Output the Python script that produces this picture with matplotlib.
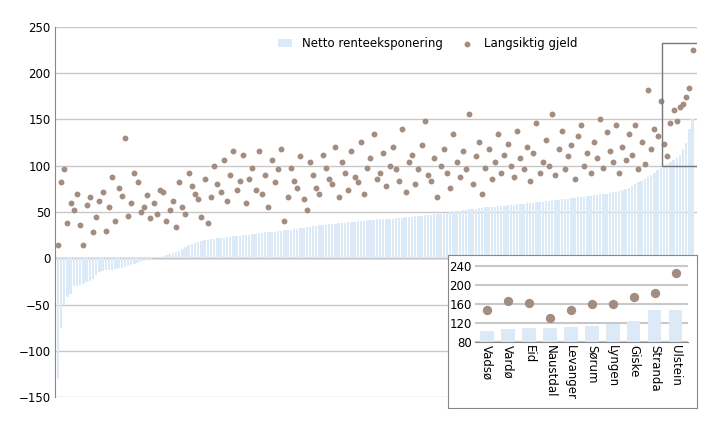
import matplotlib
matplotlib.use("Agg")
import matplotlib.pyplot as plt
from matplotlib.patches import Rectangle
import numpy as np

bars = [-130,-75,-50,-42,-38,
-30,-30,-29,-28,-25,-24,-22,-18,-15,-14,
-13,-12,-12,-11,-10,-10,-9,-8,-7,-6,-5,-4,-3,-2,-1,
0,1,2,3,4,5,6,7,8,10,12,14,16,17,18,19,
20,20,21,21,22,22,22,23,23,24,24,24,25,25,25,
26,26,27,27,28,28,29,29,30,30,31,31,31,32,32,33,
33,34,34,35,35,36,36,36,37,37,37,38,38,38,39,
39,39,40,40,40,41,41,41,42,42,42,43,43,43,44,44,
44,45,45,45,46,46,46,47,47,47,48,48,48,49,49,
50,50,51,51,52,52,53,53,53,54,54,55,55,56,56,57,
57,57,58,58,58,59,59,59,60,60,60,61,61,61,62,
62,63,63,63,64,64,64,65,65,66,66,66,67,67,68,68,
69,70,70,71,72,72,73,74,75,76,78,80,82,84,86,
88,90,92,95,98,100,102,104,106,108,112,118,125,140,150]

dots = [15,83,96,38,60,52,70,36,14,58,66,28,45,62,72,30,55,88,40,76,
67,130,46,60,92,82,50,55,68,44,60,48,74,72,40,52,62,34,82,56,
48,92,78,70,64,45,86,38,66,100,80,72,106,62,90,116,74,84,112,60,
86,98,74,116,70,90,56,106,82,96,118,40,66,98,84,76,110,64,52,104,
90,76,70,112,98,86,80,120,66,104,92,74,116,88,82,126,70,98,108,134,
86,92,114,78,100,120,96,84,140,72,104,112,80,96,122,148,90,84,108,66,
100,118,92,76,134,104,88,116,96,156,80,110,126,70,98,118,86,104,134,92,
112,124,100,88,138,108,96,120,84,114,146,92,104,128,100,156,90,118,138,96,
110,122,86,132,144,100,114,92,126,108,150,98,136,116,104,144,92,120,106,134,
112,144,96,126,102,182,118,140,132,170,124,110,146,160,148,163,167,174,184,225]

inset_names = ["Vadsø","Vardø","Eid","Naustdal","Levanger","Sørum","Lyngen","Giske","Stranda","Ulstein"]
inset_bars = [103,107,109,110,112,114,118,125,147,148]
inset_dots = [148,167,163,131,148,161,159,174,184,225]

BAR = "#dce9f7"
DOT = "#a38c80"
plt.rcParams["font.family"] = "DejaVu Sans"

fig = plt.figure(figsize=(7.19, 4.25), dpi=100)
ax = fig.add_axes([0.077, 0.065, 0.893, 0.872])
x = np.arange(len(bars))
hb = ax.bar(x, bars, width=0.75, color=BAR, label="Netto renteeksponering", zorder=2)
hs = ax.scatter(x, dots, s=18, color=DOT, label="Langsiktig gjeld", zorder=3, linewidths=0)
ax.set_ylim(-150, 250)
ax.set_xlim(-0.8, len(bars) + 0.5)
ax.set_yticks(range(-150, 251, 50))
ax.yaxis.grid(True, color="#c8c8c8", lw=1, zorder=0)
ax.axhline(0, color="#888888", lw=1, zorder=1)
ax.set_xticks([])
for s in ["top", "right", "bottom"]:
    ax.spines[s].set_visible(False)
ax.spines["left"].set_color("#888888")
ax.tick_params(axis="y", length=0, labelsize=8.5)
ax.add_patch(Rectangle((189.5, 100), 11.3, 132, fill=False, edgecolor="#777777", lw=1, zorder=4))
ax.legend([hb, hs], ["Netto renteeksponering", "Langsiktig gjeld"], loc="upper center",
          bbox_to_anchor=(0.58, 1.0), ncol=2, frameon=False, fontsize=8.5,
          handlelength=1.2, columnspacing=1.5)

# inset
box = fig.add_axes([0.623, 0.04, 0.346, 0.36])
box.set_xticks([]); box.set_yticks([])
box.set_facecolor("white")
for s in box.spines.values():
    s.set_color("#888888")
box.set_zorder(5)
ins = fig.add_axes([0.66, 0.195, 0.297, 0.185])
ins.set_zorder(6)
xi = np.arange(len(inset_names))
ins.bar(xi, inset_bars, width=0.65, color=BAR, zorder=2)
ins.scatter(xi, inset_dots, s=45, color=DOT, zorder=3, linewidths=0)
ins.set_ylim(80, 245)
ins.set_xlim(-0.6, len(inset_names) - 0.4)
ins.set_yticks(range(80, 241, 40))
ins.yaxis.grid(True, color="#c8c8c8", lw=1.5, zorder=0)
ins.set_xticks(xi)
ins.set_xticklabels(inset_names, rotation=-90, fontsize=8.5)
ins.tick_params(axis="both", length=0, labelsize=8.5, pad=2)
for s in ["top", "right", "left"]:
    ins.spines[s].set_visible(False)
ins.spines["bottom"].set_color("#888888")

fig.savefig("out.png", dpi=100)
